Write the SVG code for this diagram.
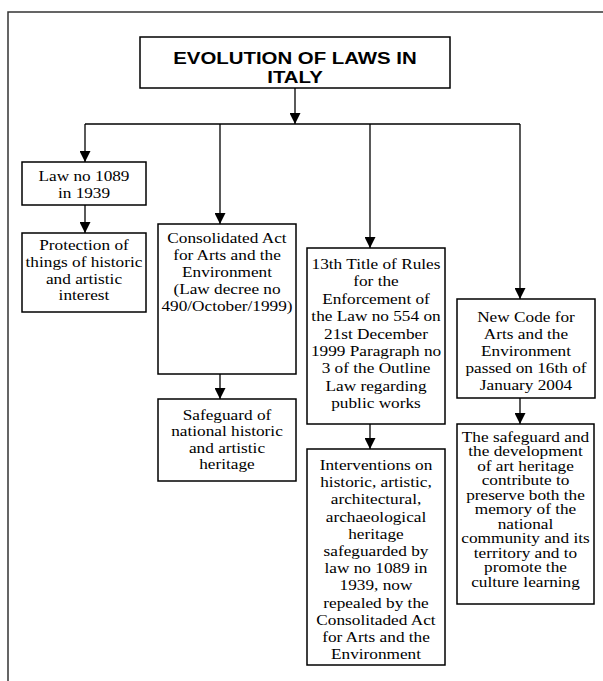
<svg xmlns="http://www.w3.org/2000/svg" width="603" height="681" viewBox="0 0 603 681">
<defs>
<marker id="ah" viewBox="0 0 10 10" refX="10" refY="5" markerWidth="11" markerHeight="11" markerUnits="userSpaceOnUse" orient="auto">
<path d="M0,0 L10,5 L0,10 Z" fill="#000"/>
</marker>
</defs>
<style>
.box{fill:#fff;stroke:#000;stroke-width:1.5}
.t{font-family:"Liberation Serif","Times New Roman",serif;font-size:15px;fill:#000;text-anchor:middle}
.h{font-family:"Liberation Sans",Arial,sans-serif;font-size:17px;font-weight:bold;fill:#000;text-anchor:middle}
.c{fill:none;stroke:#000;stroke-width:1.3}
</style>
<rect width="603" height="681" fill="#fff"/>
<path d="M8,681 V12 H603" fill="none" stroke="#333" stroke-width="1.5"/>

<g id="connectors">
<path class="c" d="M295,88 V124" marker-end="url(#ah)"/>
<path class="c" d="M85,124 H520"/>
<path class="c" d="M85,124 V162" marker-end="url(#ah)"/>
<path class="c" d="M220,124 V224" marker-end="url(#ah)"/>
<path class="c" d="M370,124 V248" marker-end="url(#ah)"/>
<path class="c" d="M520,124 V299" marker-end="url(#ah)"/>
<path class="c" d="M85,205 V233" marker-end="url(#ah)"/>
<path class="c" d="M220,374 V399" marker-end="url(#ah)"/>
<path class="c" d="M370,424 V449" marker-end="url(#ah)"/>
<path class="c" d="M520,398 V424" marker-end="url(#ah)"/>
</g>

<g id="title">
<rect class="box" x="140" y="37" width="310" height="51"/>
<g transform="translate(295,0) scale(1.2,1)">
<text class="h" x="0" y="64">EVOLUTION OF LAWS IN</text>
<text class="h" x="0" y="83">ITALY</text>
</g>
</g>

<g id="law1089">
<rect class="box" x="22" y="162" width="124" height="43"/>
<g transform="translate(84,0) scale(1.15,1)">
<text class="t" x="0" y="181">Law no 1089</text>
<text class="t" x="0" y="198">in 1939</text>
</g>
</g>

<g id="protection">
<rect class="box" x="22" y="233" width="124" height="79"/>
<g transform="translate(84,0) scale(1.15,1)">
<text class="t" x="0" y="250">Protection of</text>
<text class="t" x="0" y="266.8">things of historic</text>
<text class="t" x="0" y="283.6">and artistic</text>
<text class="t" x="0" y="300.4">interest</text>
</g>
</g>

<g id="consolidated">
<rect class="box" x="158" y="224" width="138" height="150"/>
<g transform="translate(227,0) scale(1.15,1)">
<text class="t" x="0" y="243.5">Consolidated Act</text>
<text class="t" x="0" y="260.5">for Arts and the</text>
<text class="t" x="0" y="277.5">Environment</text>
<text class="t" x="0" y="294.5">(Law decree no</text>
<text class="t" x="0" y="311.5">490/October/1999)</text>
</g>
</g>

<g id="safeguard-national">
<rect class="box" x="158" y="399" width="138" height="82"/>
<g transform="translate(227,0) scale(1.15,1)">
<text class="t" x="0" y="420">Safeguard of</text>
<text class="t" x="0" y="436.5">national historic</text>
<text class="t" x="0" y="453">and artistic</text>
<text class="t" x="0" y="469.5">heritage</text>
</g>
</g>

<g id="title13">
<rect class="box" x="307" y="248" width="138" height="176"/>
<g transform="translate(376,0) scale(1.15,1)">
<text class="t" x="0" y="269">13th Title of Rules</text>
<text class="t" x="0" y="286.4">for the</text>
<text class="t" x="0" y="303.8">Enforcement of</text>
<text class="t" x="0" y="321.2">the Law no 554 on</text>
<text class="t" x="0" y="338.6">21st December</text>
<text class="t" x="0" y="356">1999 Paragraph no</text>
<text class="t" x="0" y="373.4">3 of the Outline</text>
<text class="t" x="0" y="390.8">Law regarding</text>
<text class="t" x="0" y="408.2">public works</text>
</g>
</g>

<g id="interventions">
<rect class="box" x="307" y="449" width="138" height="216"/>
<g transform="translate(376,0) scale(1.15,1)">
<text class="t" x="0" y="470">Interventions on</text>
<text class="t" x="0" y="487.2">historic, artistic,</text>
<text class="t" x="0" y="504.4">architectural,</text>
<text class="t" x="0" y="521.6">archaeological</text>
<text class="t" x="0" y="538.8">heritage</text>
<text class="t" x="0" y="556">safeguarded by</text>
<text class="t" x="0" y="573.2">law no 1089 in</text>
<text class="t" x="0" y="590.4">1939, now</text>
<text class="t" x="0" y="607.6">repealed by the</text>
<text class="t" x="0" y="624.8">Consolitaded Act</text>
<text class="t" x="0" y="642">for Arts and the</text>
<text class="t" x="0" y="659.2">Environment</text>
</g>
</g>

<g id="newcode">
<rect class="box" x="457" y="299" width="138" height="99"/>
<g transform="translate(526,0) scale(1.15,1)">
<text class="t" x="0" y="322">New Code for</text>
<text class="t" x="0" y="338.9">Arts and the</text>
<text class="t" x="0" y="355.8">Environment</text>
<text class="t" x="0" y="372.7">passed on 16th of</text>
<text class="t" x="0" y="389.6">January 2004</text>
</g>
</g>

<g id="safeguard-development">
<rect class="box" x="457" y="424" width="137" height="180"/>
<g transform="translate(525.5,0) scale(1.15,1)">
<text class="t" x="0" y="442">The safeguard and</text>
<text class="t" x="0" y="456.5">the development</text>
<text class="t" x="0" y="471">of art heritage</text>
<text class="t" x="0" y="485.5">contribute to</text>
<text class="t" x="0" y="500">preserve both the</text>
<text class="t" x="0" y="514.5">memory of the</text>
<text class="t" x="0" y="529">national</text>
<text class="t" x="0" y="543.5">community and its</text>
<text class="t" x="0" y="558">territory and to</text>
<text class="t" x="0" y="572.5">promote  the</text>
<text class="t" x="0" y="587">culture learning</text>
</g>
</g>
</svg>
